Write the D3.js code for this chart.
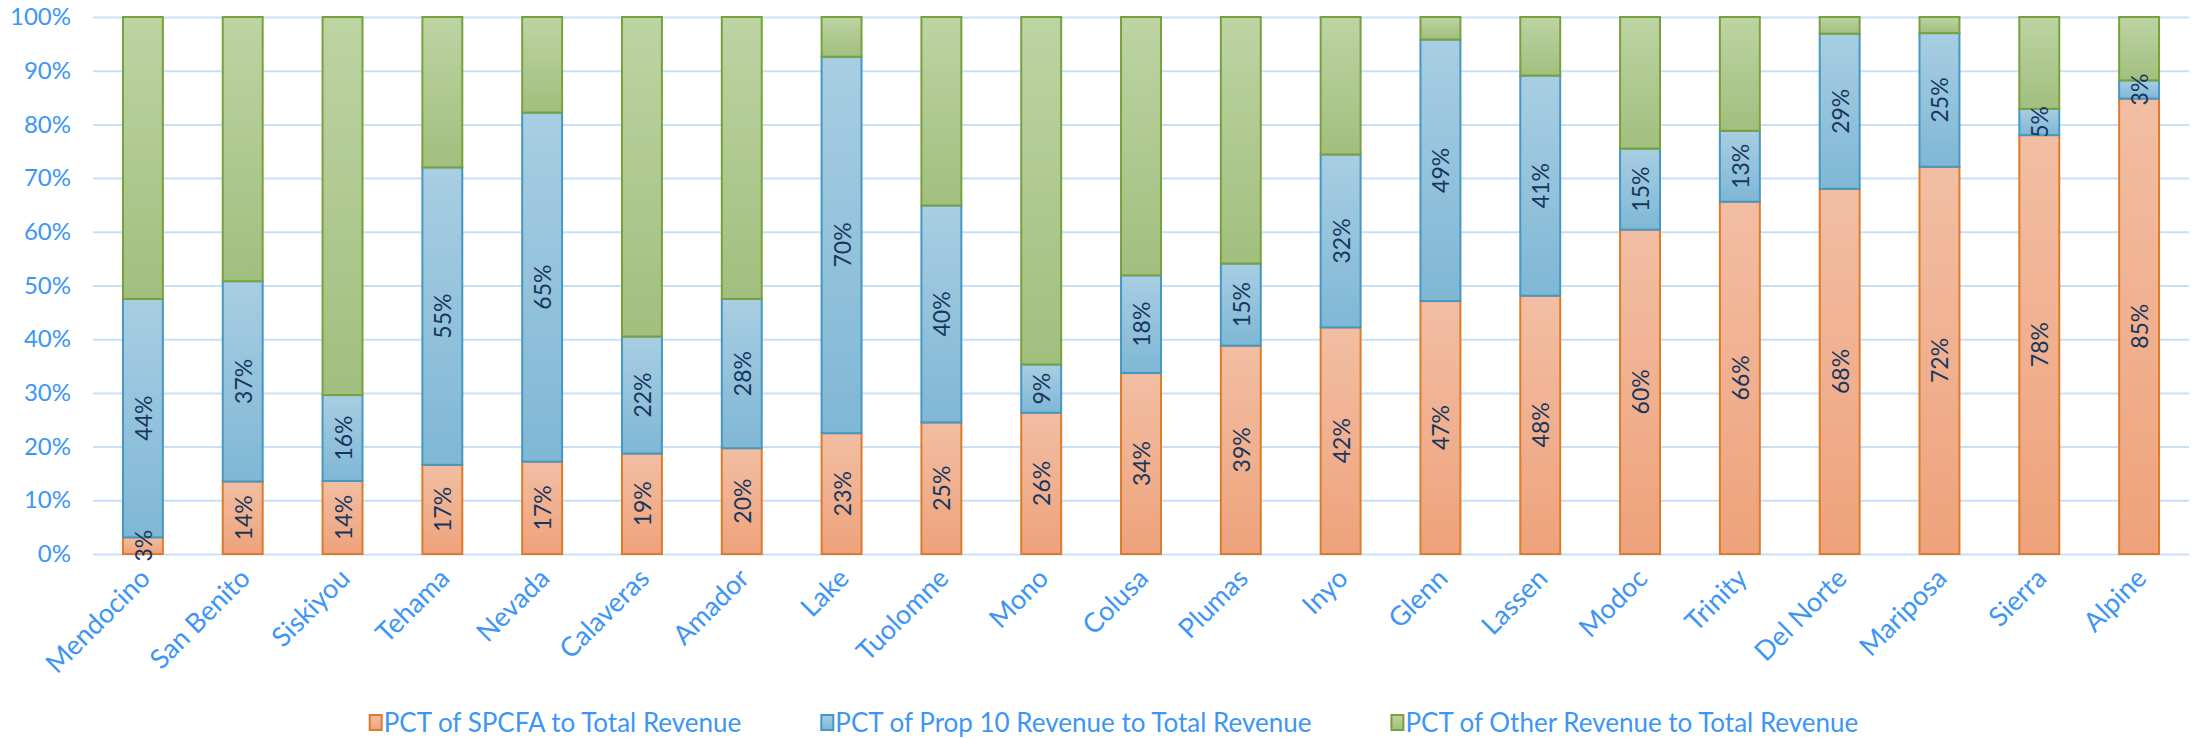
<!DOCTYPE html>
<html>
<head>
<meta charset="utf-8">
<script src="https://cdn.jsdelivr.net/npm/d3@7"></script>
<style>
  body { margin: 0; background: #fff; }
  #chart svg { display: block; }
</style>
</head>
<body>
<div id="chart"></div>
<script>
// counties, left to right
const counties = ["Mendocino", "San Benito", "Siskiyou", "Tehama", "Nevada", "Calaveras", "Amador",
  "Lake", "Tuolomne", "Mono", "Colusa", "Plumas", "Inyo", "Glenn", "Lassen", "Modoc", "Trinity",
  "Del Norte", "Mariposa", "Sierra", "Alpine"];

// share of total revenue (%)
const spcfa = [3.1, 13.5, 13.6, 16.6, 17.2, 18.7, 19.7, 22.5, 24.5, 26.3, 33.7, 38.8, 42.2, 47.1, 48.1, 60.4, 65.6, 68.0, 72.1, 78.0, 84.8];
const prop10 = [44.4, 37.3, 16.0, 55.4, 65.0, 21.8, 27.8, 70.1, 40.4, 9.0, 18.2, 15.3, 32.2, 48.7, 41.0, 15.1, 13.2, 28.9, 24.9, 4.9, 3.4];
const other = [52.5, 49.2, 70.4, 28.0, 17.8, 59.5, 52.5, 7.4, 35.1, 64.7, 48.1, 45.9, 25.6, 4.2, 10.9, 24.5, 21.2, 3.1, 3.0, 17.1, 11.8];

const seriesKeys = ["spcfa", "prop10", "other"];
const legendLabels = ["PCT of SPCFA to Total Revenue", "PCT of Prop 10 Revenue to Total Revenue", "PCT of Other Revenue to Total Revenue"];
const yTicks = [0, 0.1, 0.2, 0.3, 0.4, 0.5, 0.6, 0.7, 0.8, 0.9, 1];

const width = 2195, height = 738;
const margin = { top: 17, right: 6, bottom: 184, left: 93 };

// fill gradient (top, bottom) and outline per series
const palette = {
  spcfa: { top: "#f2bea3", bottom: "#eea27b", stroke: "#de7b28" },
  prop10: { top: "#a8cee2", bottom: "#7fb7d5", stroke: "#4498c2" },
  other: { top: "#bdd4a3", bottom: "#a1bf7e", stroke: "#78a13c" }
};
const axisBlue = "#3d95f5";
const labelNavy = "#17365d";

const rows = counties.map((c, i) => ({ county: c, spcfa: spcfa[i], prop10: prop10[i], other: other[i] }));

const svg = d3.select("#chart").append("svg")
  .attr("width", width)
  .attr("height", height)
  .style("font-family", "Lato, 'Open Sans', sans-serif");

const defs = svg.append("defs");
seriesKeys.forEach((k) => {
  const g = defs.append("linearGradient").attr("id", "grad-" + k)
    .attr("x1", 0).attr("y1", 0).attr("x2", 0).attr("y2", 1);
  g.append("stop").attr("offset", "0%").attr("stop-color", palette[k].top);
  g.append("stop").attr("offset", "100%").attr("stop-color", palette[k].bottom);
});

const plotW = width - margin.left - margin.right;

const x = d3.scaleBand().domain(counties).range([margin.left, width - margin.right])
  .paddingInner(0.6).paddingOuter(0.3);
const y = d3.scaleLinear().domain([0, 1]).range([height - margin.bottom, margin.top]);

// gridlines + y labels
const yAxis = svg.append("g")
  .attr("transform", `translate(${margin.left},0)`)
  .call(d3.axisLeft(y).tickValues(yTicks).tickFormat(d3.format(".0%")).tickSize(-plotW).tickPadding(22));
yAxis.select(".domain").remove();
yAxis.selectAll("line").attr("stroke", "#c7e0fa").attr("stroke-width", 2);
yAxis.selectAll("text").attr("fill", axisBlue).style("font-size", "24px").style("font-family", "Lato, sans-serif");

const stack = d3.stack().keys(seriesKeys).offset(d3.stackOffsetExpand);
const layers = stack(rows);

const layerG = svg.selectAll(".layer").data(layers).enter().append("g")
  .attr("class", "layer")
  .attr("fill", (d) => `url(#grad-${d.key})`)
  .attr("stroke", (d) => palette[d.key].stroke)
  .attr("stroke-width", 2);

layerG.selectAll("rect").data((d) => d).enter().append("rect")
  .attr("x", (d) => x(d.data.county))
  .attr("y", (d) => y(d[1]))
  .attr("width", x.bandwidth())
  .attr("height", (d) => y(d[0]) - y(d[1]));

// value labels on the first two series
layers.filter((l) => l.key !== "other").forEach((l) => {
  svg.append("g").selectAll("text").data(l).enter().append("text")
    .attr("transform", (d) => {
      const cx = x(d.data.county) + x.bandwidth() / 2;
      const cy = (y(d[0]) + y(d[1])) / 2;
      return `translate(${cx},${cy}) rotate(-90)`;
    })
    .attr("text-anchor", "middle")
    .attr("dominant-baseline", "central")
    .attr("fill", labelNavy)
    .style("font-size", "23px")
    .text((d) => Math.round(d.data[l.key]) + "%");
});

// county labels
svg.append("g").selectAll("text").data(counties).enter().append("text")
  .attr("transform", (d) => `translate(${x(d) + x.bandwidth() / 2 + 9},${y(0) + 26}) rotate(-45)`)
  .attr("text-anchor", "end")
  .attr("fill", axisBlue)
  .style("font-size", "27px")
  .text((d) => d);

// legend
const legend = svg.append("g").attr("transform", `translate(0,${height - 6})`);
const items = legend.selectAll("g").data(seriesKeys).enter().append("g");
items.append("rect")
  .attr("y", -17).attr("width", 12).attr("height", 15)
  .attr("fill", (d) => `url(#grad-${d})`)
  .attr("stroke", (d) => palette[d].stroke)
  .attr("stroke-width", 2);
items.append("text")
  .attr("x", 14)
  .attr("fill", axisBlue)
  .style("font-size", "26px")
  .text((d, i) => legendLabels[i]);

let widths = [];
items.each(function () { widths.push(this.getBBox().width); });
const gap = 80;
const total = d3.sum(widths) + gap * (widths.length - 1);
let cursor = 1114 - total / 2;
items.attr("transform", (d, i) => {
  const t = `translate(${cursor},0)`;
  cursor += widths[i] + gap;
  return t;
});
</script>
</body>
</html>
